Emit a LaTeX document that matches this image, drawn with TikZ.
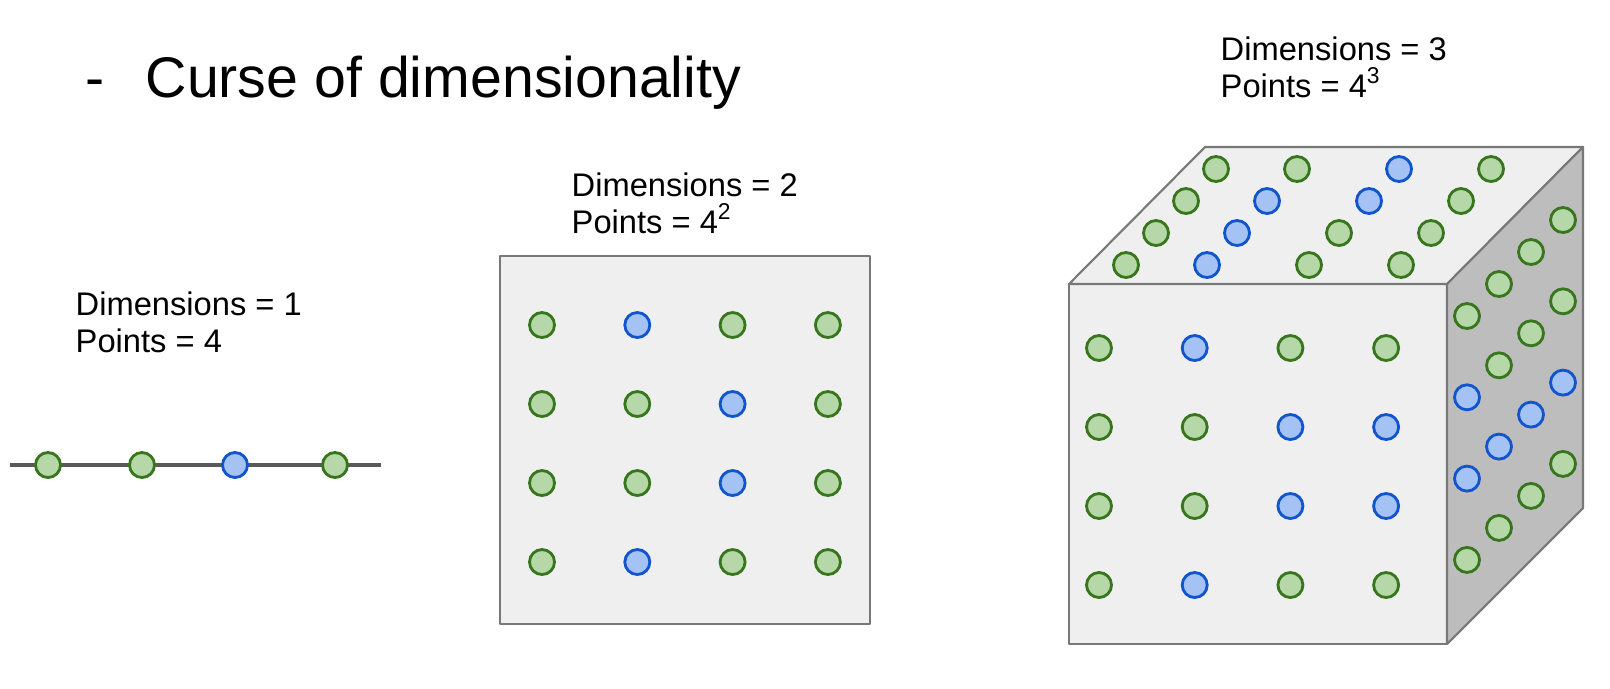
\documentclass[tikz,border=0pt]{standalone}
\usepackage{fontspec}
\setmainfont{Liberation Sans}
\definecolor{dotgreen}{HTML}{B6D7A8}
\definecolor{dotgreenline}{HTML}{38761D}
\definecolor{dotblue}{HTML}{A4C2F4}
\definecolor{dotblueline}{HTML}{1155CC}
\definecolor{facegray}{HTML}{EFEFEF}
\definecolor{sidegray}{HTML}{BDBDBD}
\definecolor{edgegray}{HTML}{787878}
\definecolor{linegray}{HTML}{595959}

\begin{document}
\begin{tikzpicture}[x=0.1mm, y=-0.1mm,
    pt/.style={circle, minimum size=2.5mm, inner sep=0pt, line width=0.8pt},
    ptg/.style={pt, draw=dotgreenline, fill=dotgreen},
    ptb/.style={pt, draw=dotblueline, fill=dotblue},
    panel/.style={draw=edgegray, line width=0.6pt, line join=round},
    dimtext/.style={anchor=north west, inner sep=0pt, align=left,
      font=\fontsize{9.3}{10.5}\selectfont},
    titletext/.style={anchor=base west, inner sep=0pt,
      font=\fontsize{16.3}{19}\selectfont}
  ]
  \useasboundingbox (0,0) rectangle (1610,688);

  % title
  \node[titletext] (dash)  at (85,97.5)  {-};
  \node[titletext] (title) at (145,97.5) {Curse of dimensionality};

  % one dimension
  \node[dimtext] (dim1) at (75,291) {Dimensions = 1\\Points = 4};
  \coordinate (lineL) at (10,465);
  \coordinate (lineR) at (381,465);
  \draw[linegray, line width=1.3pt] (lineL) -- (lineR);
  \node[ptg] (l1) at (48,465)  {};
  \node[ptg] (l2) at (142,465) {};
  \node[ptb] (l3) at (235,465) {};
  \node[ptg] (l4) at (335,465) {};

  % two dimensions
  \node[dimtext] (dim2) at (571,172) {Dimensions = 2\\Points = 4\textsuperscript{2}};
  \draw[panel, fill=facegray] (500,256) rectangle (870,624);
  \foreach \row [count=\r] in {{g,b,g,g},{g,g,b,g},{g,g,b,g},{g,b,g,g}}
    \foreach \k [count=\c] in \row
      \node[pt\k] (sq-\r-\c) at ({542+95.3*(\c-1)},{325+79*(\r-1)}) {};

  % three dimensions
  \node[dimtext] (dim3) at (1220,36) {Dimensions = 3\\Points = 4\textsuperscript{3}};
  \coordinate (ftl) at (1069,284);
  \coordinate (ftr) at (1447,284);
  \coordinate (fbr) at (1447,644);
  \coordinate (btl) at (1205,147);
  \coordinate (btr) at (1583,147);
  \coordinate (bbr) at (1583,508);
  \draw[panel, fill=facegray] (ftl) rectangle (fbr);
  \draw[panel, fill=facegray] (ftl) -- (btl) -- (btr) -- (ftr) -- cycle;
  \draw[panel, fill=sidegray] (ftr) -- (btr) -- (bbr) -- (fbr) -- cycle;

  % front face
  \foreach \row [count=\r] in {{g,b,g,g},{g,g,b,b},{g,g,b,b},{g,b,g,g}}
    \foreach \k [count=\c] in \row
      \node[pt\k] (fr-\r-\c) at ({1099+95.7*(\c-1)},{348+79*(\r-1)}) {};
  % top face
  \foreach \row [count=\r] in {{1126/g,1207/b,1309/g,1401/g},{1126/g,1207/b,1309/g,1401/g},
                               {1126/g,1207/b,1309/b,1401/g},{1126/g,1207/g,1309/b,1401/g}}
    \foreach \x/\k [count=\c] in \row
      \node[pt\k] (tp-\r-\c) at ({\x+30*(\r-1)},{265-32*(\r-1)}) {};
  % side face
  \foreach \row [count=\r] in {{g,g,g,g},{b,g,g,g},{b,b,b,b},{g,g,g,g}}
    \foreach \k [count=\dd] in \row
      \node[pt\k] (sd-\r-\dd) at ({1467+32*(\dd-1)},{316+81.3*(\r-1)-32*(\dd-1)}) {};
\end{tikzpicture}
\end{document}
